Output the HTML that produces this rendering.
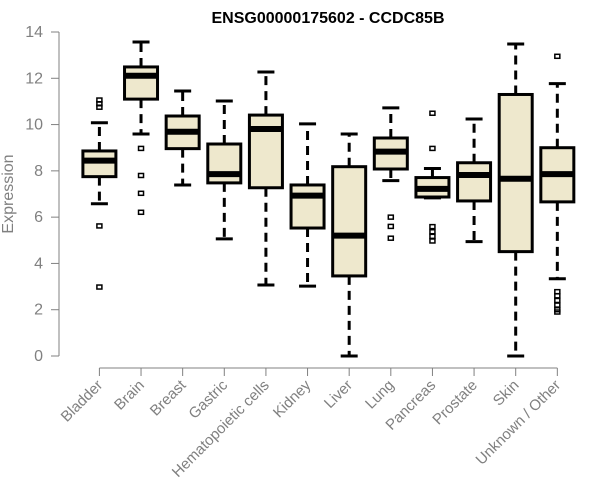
<!DOCTYPE html>
<html><head><meta charset="utf-8"><style>
body{margin:0;background:#fff}
svg{display:block;font-family:"Liberation Sans",Arial,sans-serif}
</style></head><body>
<svg id="chart" width="600" height="500"></svg>
<script>
const categories=["Bladder","Brain","Breast","Gastric","Hematopoietic cells","Kidney","Liver","Lung","Pancreas","Prostate","Skin","Unknown / Other"];
const whiskerLow=[6.58,9.59,7.39,5.06,3.07,3.02,0,7.58,6.83,4.94,0,3.34];
const q1=[7.75,11.1,8.96,7.48,7.27,5.53,3.46,8.08,6.87,6.7,4.51,6.66];
const medians=[8.44,12.11,9.69,7.86,9.81,6.93,5.2,8.83,7.22,7.82,7.66,7.86];
const q3=[8.86,12.49,10.37,9.16,10.41,7.39,8.18,9.42,7.71,8.35,11.3,9.0];
const whiskerHigh=[10.08,13.57,11.45,11.02,12.27,10.03,9.59,10.72,8.1,10.24,13.48,11.77];
const outliers=[[11.06,10.9,10.75,5.62,2.98],[8.97,7.8,7.03,6.21],[],[],[],[],[],[6.0,5.6,5.09],[10.49,8.97,5.59,5.37,5.17,4.97],[],[],[12.95,2.78,2.6,2.4,2.2,2.0,1.9]];
const yTicks=[0,2,4,6,8,10,12,14];

const NS="http://www.w3.org/2000/svg";
const svg=document.getElementById('chart');
function y(v){return 356-v*(324/14);}
function x(i){return 99.4+i*41.63;}
function el(t,a,p){const e=document.createElementNS(NS,t);for(const k in a)e.setAttribute(k,a[k]);(p||svg).appendChild(e);return e;}
const gray="#808080";
let t=el('text',{x:328,y:23,'text-anchor':'middle','font-weight':'bold','font-size':16,fill:'#000'});
t.textContent="ENSG00000175602 - CCDC85B";


let ya=el('g',{});


el('line',{x1:59,x2:59,y1:y(0),y2:y(14),stroke:gray,'stroke-width':1},ya);
yTicks.forEach(v=>{
 el('line',{x1:51,x2:59,y1:y(v),y2:y(v),stroke:gray},ya);
 const tx=el('text',{x:43,y:y(v)+5,'text-anchor':'end','font-size':16,fill:gray},ya);
 tx.textContent=v;
 
 
});
let yt=el('text',{x:13,y:194,'text-anchor':'middle','font-size':16,fill:gray,transform:'rotate(-90 13 194)'});
yt.textContent="Expression";


let xa=el('g',{});


el('line',{x1:x(0),x2:x(categories.length-1),y1:368,y2:368,stroke:gray},xa);
categories.forEach((c,i)=>{
 el('line',{x1:x(i),x2:x(i),y1:368,y2:376,stroke:gray},xa);
 const tx=el('text',{x:x(i)+4,y:386,'text-anchor':'end','font-size':15,fill:gray,transform:`rotate(-45 ${x(i)+4} 386)`},xa);
 tx.textContent=c;
 
 
});
const hw=16.5;
categories.forEach((c,i)=>{
 const g=el('g',{});
 
 
 const cx=x(i);
 el('line',{x1:cx,x2:cx,y1:y(q3[i]),y2:y(whiskerHigh[i]),stroke:'#000','stroke-width':3,'stroke-dasharray':'9 6'},g);
 el('line',{x1:cx,x2:cx,y1:y(q1[i]),y2:y(whiskerLow[i]),stroke:'#000','stroke-width':3,'stroke-dasharray':'9 6'},g);
 el('line',{x1:cx-8.5,x2:cx+8.5,y1:y(whiskerHigh[i]),y2:y(whiskerHigh[i]),stroke:'#000','stroke-width':3},g);
 el('line',{x1:cx-8.5,x2:cx+8.5,y1:y(whiskerLow[i]),y2:y(whiskerLow[i]),stroke:'#000','stroke-width':3},g);
 el('rect',{x:cx-hw,y:y(q3[i]),width:2*hw,height:y(q1[i])-y(q3[i]),fill:'#EEE8CD',stroke:'#000','stroke-width':3},g);
 el('line',{x1:cx-hw,x2:cx+hw,y1:y(medians[i]),y2:y(medians[i]),stroke:'#000','stroke-width':6},g);
 outliers[i].forEach(v=>{
  const o=el('rect',{x:cx-2.5,y:y(v)-2,width:5,height:4,fill:'none',stroke:'#000','stroke-width':1.5},g);
  
  
 });
});
</script>
</body></html>
